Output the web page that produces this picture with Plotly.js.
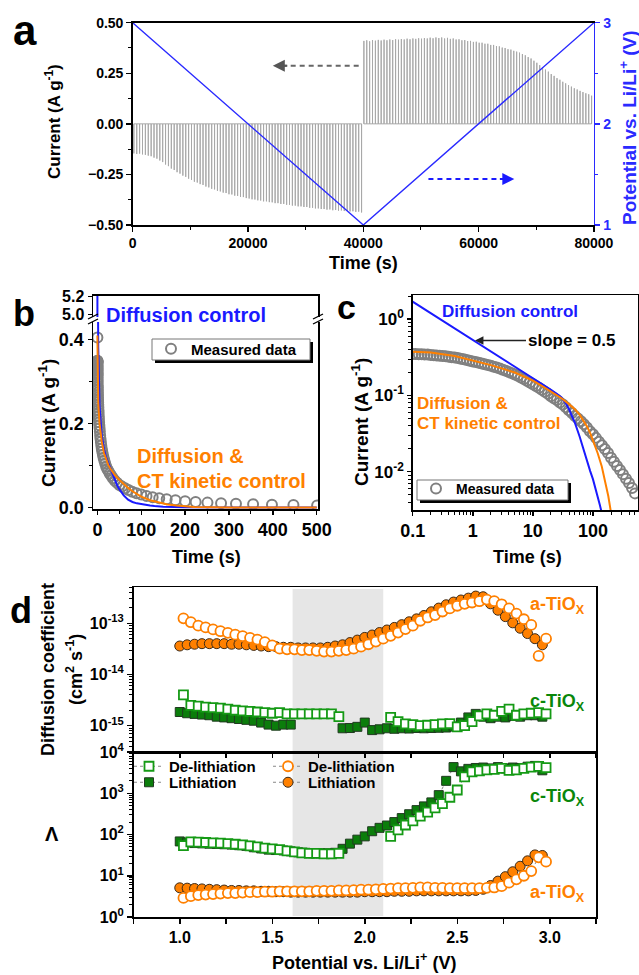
<!DOCTYPE html>
<html><head><meta charset="utf-8">
<script src="https://cdn.plot.ly/plotly-3.0.1.min.js"></script>
<style>html,body{margin:0;padding:0;background:#fff;}#chart{width:639px;height:975px;}</style>
</head><body><div id="chart"></div>
<script>
// ---------- Panel a: GITT pulses and potential ----------
const lithTimes = [200,700,1200,1700,2200,2700,3200,3700,4200,4700,5200,5700,6200,6700,7200,7700,8200,8700,9200,9700,10200,10700,11200,11700,12200,12700,13200,13700,14200,14700,15200,15700,16200,16700,17200,17700,18200,18700,19200,19700,20200,20700,21200,21700,22200,22700,23200,23700,24200,24700,25200,25700,26200,26700,27200,27700,28200,28700,29200,29700,30200,30700,31200,31700,32200,32700,33200,33700,34200,34700,35200,35700,36200,36700,37200,37700,38200,38700,39200,39700];
const lithPeaks = [-0.146,-0.149,-0.147,-0.151,-0.153,-0.157,-0.160,-0.167,-0.172,-0.181,
-0.189,-0.201,-0.209,-0.221,-0.228,-0.239,-0.246,-0.256,-0.262,-0.271,
-0.277,-0.286,-0.290,-0.298,-0.302,-0.310,-0.314,-0.321,-0.324,-0.331,
-0.334,-0.340,-0.342,-0.348,-0.349,-0.355,-0.356,-0.361,-0.362,-0.367,
-0.369,-0.373,-0.374,-0.378,-0.379,-0.383,-0.383,-0.387,-0.388,-0.392,
-0.392,-0.396,-0.396,-0.400,-0.400,-0.404,-0.404,-0.408,-0.408,-0.411,
-0.411,-0.415,-0.415,-0.418,-0.418,-0.421,-0.421,-0.424,-0.423,-0.427,
-0.426,-0.429,-0.428,-0.431,-0.430,-0.433,-0.432,-0.435,-0.434,-0.438];
const delithTimes = [40100,40600,41100,41600,42100,42600,43100,43600,44100,44600,45100,45600,46100,46600,47100,47600,48100,48600,49100,49600,50100,50600,51100,51600,52100,52600,53100,53600,54100,54600,55100,55600,56100,56600,57100,57600,58100,58600,59100,59600,60100,60600,61100,61600,62100,62600,63100,63600,64100,64600,65100,65600,66100,66600,67100,67600,68100,68600,69100,69600,70100,70600,71100,71600,72100,72600,73100,73600,74100,74600,75100,75600,76100,76600,77100,77600,78100,78600,79100,79600];
const delithPeaks = [0.410,0.413,0.408,0.414,0.411,0.415,0.412,0.416,0.413,0.417,
0.414,0.418,0.416,0.419,0.417,0.421,0.418,0.422,0.420,0.423,
0.421,0.424,0.422,0.426,0.423,0.427,0.424,0.427,0.422,0.425,
0.420,0.422,0.417,0.418,0.413,0.414,0.409,0.410,0.405,0.406,
0.401,0.401,0.396,0.396,0.390,0.390,0.384,0.383,0.377,0.375,
0.369,0.367,0.361,0.357,0.352,0.345,0.339,0.330,0.323,0.312,
0.302,0.290,0.280,0.268,0.258,0.246,0.237,0.226,0.218,0.208,
0.200,0.191,0.184,0.176,0.170,0.163,0.157,0.151,0.146,0.139];
const potTime = [0, 40000, 80000];
const potVolt = [3, 1, 3];

// ---------- Panels b, c: current transient ----------
const measT = [0.05,0.1,0.112,0.126,0.141,0.158,0.178,0.2,0.224,0.251,0.282,0.316,0.355,0.398,0.447,0.501,0.562,0.631,0.708,0.794,0.891,
1,1.12,1.26,1.41,1.58,1.78,2,2.24,2.51,2.82,3.16,3.55,3.98,4.47,5.01,5.62,6.31,7.08,7.94,8.91,
10,11.2,12.6,14.1,15.8,17.8,20,22.4,25.1,28.2,31.6,35.5,39.8,44.7,50.1,56.2,63.1,70.8,79.4,89.1,
100,112,126,141,158,178,200,224,251,282,316,355,398,447,501];
const measI = [0.405,0.350,0.349,0.348,0.347,0.346,0.344,0.340,0.338,0.335,0.332,0.329,0.326,0.322,0.318,0.315,0.310,0.304,0.298,0.291,0.286,
0.280,0.274,0.268,0.262,0.256,0.251,0.245,0.239,0.232,0.226,0.218,0.211,0.203,0.196,0.189,0.181,0.172,0.164,0.156,0.148,
0.140,0.133,0.126,0.119,0.112,0.105,0.098,0.092,0.087,0.081,0.076,0.070,0.064,0.059,0.054,0.050,0.046,0.042,0.038,0.034,
0.031,0.0278,0.0248,0.0222,0.0198,0.0176,0.0153,0.0135,0.0119,0.0105,0.0093,0.0081,0.0071,0.0061,0.0052];
const diffT = [0.01,0.1,0.2,0.5,1,2,5,10,15,20,25,30,35,40,45,50,60,70,80,90,100,110,120,130,140,150,200,300,500];
const diffI = [5.4,1.71,1.21,0.765,0.54,0.382,0.242,0.171,0.139,0.119,0.105,0.094,0.080,0.066,0.053,0.044,0.029,0.019,0.0135,0.0102,0.0080,0.0062,0.0048,0.0037,0.0029,0.0023,0.0008,0.0001,0.00001];
const ctT = [0.01,0.1,0.2,0.5,1,2,5,10,15,20,25,30,40,50,60,70,80,90,100,120,140,160,180,200,220,300,500];
const ctI = [0.41,0.38,0.365,0.33,0.29,0.25,0.20,0.157,0.13,0.113,0.101,0.092,0.077,0.066,0.056,0.047,0.039,0.032,0.026,0.0175,0.0118,0.0076,0.0048,0.0029,0.0017,0.0002,0.000005];

// ---------- Panel d ----------
const vLi = [1.00,1.04,1.08,1.12,1.16,1.20,1.24,1.28,1.32,1.36,1.40,1.44,1.48,1.52,1.56,1.60,1.64,1.68,1.72,1.76,1.80,1.84,1.88,1.92,1.96,2.00,2.04,2.08,2.12,2.16,2.20,2.24,2.28,2.32,2.36,2.40,2.44,2.48,2.52,2.56,2.60,2.64,2.68,2.72,2.76,2.80,2.84,2.88,2.92,2.96];
const vDe = [1.02,1.06,1.10,1.14,1.18,1.22,1.26,1.30,1.34,1.38,1.42,1.46,1.50,1.54,1.58,1.62,1.66,1.70,1.74,1.78,1.82,1.86,1.90,1.94,1.98,2.02,2.06,2.10,2.14,2.18,2.22,2.26,2.30,2.34,2.38,2.42,2.46,2.50,2.54,2.58,2.62,2.66,2.70,2.74,2.78,2.82,2.86,2.90,2.94,2.98];
const dA_Li = [3.6e-14,3.8e-14,3.9e-14,4.0e-14,4.0e-14,4.0e-14,4.0e-14,3.9e-14,3.9e-14,3.8e-14,3.7e-14,3.6e-14,3.5e-14,3.5e-14,3.4e-14,3.4e-14,3.3e-14,3.3e-14,3.3e-14,3.3e-14,3.4e-14,3.6e-14,3.8e-14,4.2e-14,4.7e-14,5.3e-14,5.9e-14,6.6e-14,7.4e-14,8.3e-14,9.4e-14,1.07e-13,1.22e-13,1.42e-13,1.68e-13,1.98e-13,2.3e-13,2.6e-13,2.85e-13,3.1e-13,3.4e-13,3.3e-13,2.4e-13,1.8e-13,1.35e-13,1.02e-13,8.0e-14,6.3e-14,5.0e-14,3.8e-14];
const dA_De = [1.25e-13,1.05e-13,9.0e-14,8.3e-14,7.6e-14,7.0e-14,6.5e-14,6.0e-14,5.6e-14,5.2e-14,4.8e-14,4.3e-14,3.7e-14,3.2e-14,3.1e-14,3.1e-14,3.0e-14,3.0e-14,2.9e-14,2.8e-14,2.8e-14,2.9e-14,3.0e-14,3.2e-14,3.5e-14,3.9e-14,4.4e-14,5.0e-14,5.7e-14,6.6e-14,7.7e-14,9.0e-14,1.12e-13,1.3e-13,1.45e-13,1.7e-13,1.95e-13,2.2e-13,2.4e-13,2.55e-13,2.7e-13,2.9e-13,2.7e-13,2.35e-13,1.95e-13,1.55e-13,1.2e-13,9.3e-14,2.3e-14,5.0e-14];
const dC_Li = [1.85e-15,1.75e-15,1.7e-15,1.65e-15,1.6e-15,1.5e-15,1.45e-15,1.4e-15,1.35e-15,1.3e-15,1.25e-15,1.15e-15,1.05e-15,1.0e-15,1.05e-15,1.05e-15,null,null,null,null,null,null,8.9e-16,9.0e-16,9.5e-16,1.15e-15,8.2e-16,8.5e-16,8.9e-16,8.7e-16,8.9e-16,8.8e-16,9.0e-16,8.9e-16,9.0e-16,9.1e-16,9.2e-16,9.6e-16,1.15e-15,1.45e-15,1.7e-15,1.5e-15,1.4e-15,1.5e-15,1.45e-15,1.55e-15,1.5e-15,1.6e-15,1.6e-15,1.5e-15];
const dC_De = [4.0e-15,2.5e-15,2.4e-15,2.3e-15,2.25e-15,2.2e-15,2.1e-15,2.0e-15,1.95e-15,1.9e-15,1.85e-15,1.8e-15,1.75e-15,1.8e-15,1.7e-15,1.7e-15,1.7e-15,1.7e-15,1.7e-15,1.7e-15,1.7e-15,1.5e-15,null,null,null,null,null,null,1.45e-15,1.2e-15,1.08e-15,1.05e-15,1.0e-15,1.02e-15,1.05e-15,1.08e-15,1.1e-15,9.5e-16,1.0e-15,1.2e-15,1.55e-15,1.7e-15,1.6e-15,1.9e-15,2.1e-15,1.6e-15,1.7e-15,1.75e-15,1.8e-15,1.7e-15];
const lamC_Li = [68,64,62,61,60,59,58,57,55,53,49,46,43,42,41,39,37,36,35,35,35,36,45,60,75,90,120,145,165,200,250,310,390,480,600,900,2000,4300,3400,3900,4100,4200,4000,4300,4000,4200,4100,4400,4600,3600];
const lamC_De = [54,66,65,64,63,62,60,58,56,53,50,47,45,43,40,38,36,35,35,34,34,35,null,null,null,null,null,null,90,130,170,215,280,350,440,560,800,1200,2500,3300,3500,3700,3800,4000,3600,3700,4000,4300,4500,4200];
const lamA_Li = [5.1,5.0,4.9,4.8,4.7,4.6,4.5,4.4,4.4,4.3,4.3,4.2,4.2,4.1,4.1,4.0,4.0,4.0,4.0,4.0,4.0,4.0,4.0,4.0,4.0,4.1,4.1,4.1,4.1,4.2,4.2,4.2,4.3,4.3,4.3,4.3,4.3,4.3,4.3,4.3,4.4,4.7,5.8,7.4,9.5,12.5,17,23,32,31];
const lamA_De = [2.9,3.2,3.4,3.5,3.6,3.7,3.8,3.8,3.9,4.0,4.0,4.1,4.1,4.2,4.2,4.2,4.2,4.2,4.3,4.3,4.3,4.4,4.4,4.5,4.6,4.6,4.7,4.8,4.9,5.0,5.0,5.1,5.2,5.2,5.1,5.1,5.0,5.0,5.0,5.0,5.0,5.1,5.2,5.6,6.8,8.2,10,13,28,22];

// ---------- helpers ----------
const W = 639, H = 975;
const px = x => x / W, py = y => 1 - y / H;
const FONT = 'Liberation Sans, Arial, Helvetica, sans-serif';
const BLUE = '#1a1aff', ORANGE = '#ff8000', GREEN = '#0a870a', GRAY = '#808080', PBLUE = '#2a2aff';

function pulsePath(times, peaks) {
  const x = [], y = [];
  times.forEach((t, i) => { x.push(t, t, t); y.push(0, peaks[i], 0); });
  return {x, y};
}
const pL = pulsePath(lithTimes, lithPeaks);
const pD = pulsePath(delithTimes, delithPeaks);

const traces = [];
// panel a
traces.push({x: pL.x, y: pL.y, xaxis: 'x', yaxis: 'y', mode: 'lines', line: {color: '#a8a8a8', width: 1}, showlegend: false});
traces.push({x: pD.x, y: pD.y, xaxis: 'x', yaxis: 'y', mode: 'lines', line: {color: '#a8a8a8', width: 1}, showlegend: false});
traces.push({x: potTime, y: potVolt, xaxis: 'x', yaxis: 'y2', mode: 'lines', line: {color: PBLUE, width: 1.4}, showlegend: false});

// panel b (lower x2/y3, upper x3/y4)
const measMarker = {symbol: 'circle-open', size: 10, color: GRAY, line: {width: 2, color: GRAY}};
traces.push({x: measT, y: measI, xaxis: 'x2', yaxis: 'y3', mode: 'markers', marker: measMarker, name: 'Measured data', legend: 'legend'});
traces.push({x: diffT, y: diffI, xaxis: 'x2', yaxis: 'y3', mode: 'lines', line: {color: BLUE, width: 2}, showlegend: false});
traces.push({x: diffT, y: diffI, xaxis: 'x3', yaxis: 'y4', mode: 'lines', line: {color: BLUE, width: 2}, showlegend: false});
traces.push({x: ctT, y: ctI, xaxis: 'x2', yaxis: 'y3', mode: 'lines', line: {color: ORANGE, width: 2}, showlegend: false});
// panel c (x4/y5)
traces.push({x: measT, y: measI, xaxis: 'x4', yaxis: 'y5', mode: 'markers', marker: measMarker, name: 'Measured data', legend: 'legend2'});
traces.push({x: diffT, y: diffI, xaxis: 'x4', yaxis: 'y5', mode: 'lines', line: {color: BLUE, width: 2}, showlegend: false});
traces.push({x: ctT, y: ctI, xaxis: 'x4', yaxis: 'y5', mode: 'lines', line: {color: ORANGE, width: 2}, showlegend: false});

// panel d markers
const mGreenF = {symbol: 'square', size: 9, color: '#0b7d0b', line: {color: '#203a20', width: 1}};
const mGreenO = {symbol: 'square', size: 9, color: 'white', line: {color: '#159a15', width: 1.8}};
const mOrF = {symbol: 'circle', size: 10, color: ORANGE, line: {color: '#3b2a18', width: 1}};
const mOrO = {symbol: 'circle', size: 10, color: 'white', line: {color: ORANGE, width: 1.8}};
const dotLine = {color: '#888', width: 1, dash: 'dot'};
// upper (x5/y6)
traces.push({x: vLi, y: dC_Li, xaxis: 'x5', yaxis: 'y6', mode: 'markers', marker: mGreenF, showlegend: false});
traces.push({x: vDe, y: dC_De, xaxis: 'x5', yaxis: 'y6', mode: 'markers', marker: mGreenO, showlegend: false});
traces.push({x: vLi, y: dA_Li, xaxis: 'x5', yaxis: 'y6', mode: 'markers', marker: mOrF, showlegend: false});
traces.push({x: vDe, y: dA_De, xaxis: 'x5', yaxis: 'y6', mode: 'markers', marker: mOrO, showlegend: false});
// lower (x6/y7)
traces.push({x: vLi, y: lamC_Li, xaxis: 'x6', yaxis: 'y7', mode: 'lines+markers', line: dotLine, marker: mGreenF, name: 'Lithiation', legend: 'legend4'});
traces.push({x: vDe, y: lamC_De, xaxis: 'x6', yaxis: 'y7', mode: 'lines+markers', line: dotLine, marker: mGreenO, name: 'De-lithiation', legend: 'legend3'});
traces.push({x: vLi, y: lamA_Li, xaxis: 'x6', yaxis: 'y7', mode: 'lines+markers', line: dotLine, marker: mOrF, name: 'Lithiation', legend: 'legend6'});
traces.push({x: vDe, y: lamA_De, xaxis: 'x6', yaxis: 'y7', mode: 'lines+markers', line: dotLine, marker: mOrO, name: 'De-lithiation', legend: 'legend5'});

function ax(o) {
  return Object.assign({showline: true, linecolor: 'black', linewidth: 1.5, ticks: 'outside', ticklen: 5, tickwidth: 1.5,
    tickcolor: 'black', showgrid: false, zeroline: false, fixedrange: true}, o);
}
const minorLin = (d, t0) => ({ticks: 'outside', ticklen: 3, tickwidth: 1, dtick: d, tick0: t0, tickcolor: 'black', showgrid: false});
const minorLog = {ticks: 'outside', ticklen: 3, tickwidth: 1, dtick: 'D1', tickcolor: 'black', showgrid: false};

const dX = [px(133.5), px(596)];
const bX = [px(93), px(318)];

function leg(x, y) {
  return {x: px(x), y: py(y), xanchor: 'left', yanchor: 'top', bgcolor: 'rgba(0,0,0,0)', borderwidth: 0,
    font: {size: 15}, itemwidth: 30};
}

const layout = {
  width: W, height: H, margin: {l: 0, r: 0, t: 0, b: 0},
  paper_bgcolor: 'white', plot_bgcolor: 'rgba(0,0,0,0)',
  font: {family: FONT, size: 14, color: 'black', weight: 'bold'},
  showlegend: true,
  xaxis: ax({domain: [px(132.7), px(593.9)], anchor: 'y', range: [0, 80000], dtick: 20000, tick0: 0, tickformat: 'd', mirror: true,
    tickfont: {size: 14}, minor: minorLin(10000, 0)}),
  yaxis: ax({domain: [py(225), py(22.7)], anchor: 'x', range: [-0.5, 0.5], dtick: 0.25, tick0: 0, tickformat: '.2f',
    tickfont: {size: 14}, minor: minorLin(0.125, 0)}),
  yaxis2: ax({overlaying: 'y', side: 'right', anchor: 'x', range: [1, 3], dtick: 1, tick0: 1, linecolor: PBLUE,
    tickcolor: PBLUE, tickfont: {size: 14, color: PBLUE},
    minor: {ticks: 'outside', ticklen: 3, tickwidth: 1, dtick: 0.5, tick0: 1, tickcolor: PBLUE}}),

  xaxis2: ax({domain: bX, anchor: 'y3', range: [-10, 503], dtick: 100, tick0: 0, tickfont: {size: 18}, ticklen: 4, minor: minorLin(50, 0)}),
  yaxis3: ax({domain: [py(509.3), py(322)], anchor: 'x2', range: [-0.004, 0.442], dtick: 0.2, tick0: 0, tickformat: '.1f',
    mirror: true, tickfont: {size: 18}, ticklen: 4, minor: minorLin(0.1, 0)}),
  xaxis3: ax({domain: bX, anchor: 'y4', range: [-10, 503], side: 'top', showticklabels: false, ticks: ''}),
  yaxis4: ax({domain: [py(317), py(295.7)], anchor: 'x3', range: [4.97, 5.21], tickvals: [5.0, 5.2], ticktext: ['5.0', '5.2'],
    mirror: true, tickfont: {size: 16}, ticklen: 4}),

  xaxis4: ax({type: 'log', domain: [px(412.7), px(638)], anchor: 'y5', range: [-1, 2.75], tickvals: [0.1, 1, 10, 100],
    ticktext: ['0.1', '1', '10', '100'], mirror: true, tickfont: {size: 18}, ticklen: 4, minor: minorLog}),
  yaxis5: ax({type: 'log', domain: [py(510), py(295)], anchor: 'x4', range: [-2.502, 0.318], tickvals: [0.01, 0.1, 1],
    ticktext: ['10<sup>-2</sup>', '10<sup>-1</sup>', '10<sup>0</sup>'], mirror: true, tickfont: {size: 17}, ticklen: 4, minor: minorLog}),

  xaxis5: ax({domain: dX, anchor: 'y6', range: [0.75, 3.25], dtick: 0.25, tick0: 0.75, showticklabels: false, mirror: true, ticklen: 4}),
  yaxis6: ax({type: 'log', domain: [py(752), py(587.3)], anchor: 'x5', range: [-15.514, -12.297],
    tickvals: [1e-15, 1e-14, 1e-13], ticktext: ['10<sup>-15</sup>', '10<sup>-14</sup>', '10<sup>-13</sup>'],
    mirror: true, tickfont: {size: 16}, minor: minorLog}),
  xaxis6: ax({domain: dX, anchor: 'y7', range: [0.75, 3.25], tickvals: [1, 1.5, 2, 2.5, 3], ticktext: ['1.0', '1.5', '2.0', '2.5', '3.0'],
    mirror: true, tickfont: {size: 16}, minor: {ticks: 'outside', ticklen: 5, tickwidth: 1.5, dtick: 0.25, tick0: 0.75, tickcolor: 'black'}}),
  yaxis7: ax({type: 'log', domain: [py(917), py(752)], anchor: 'x6', range: [0, 4],
    tickvals: [1, 10, 100, 1000, 10000], ticktext: ['10<sup>0</sup>', '10<sup>1</sup>', '10<sup>2</sup>', '10<sup>3</sup>', '10<sup>4</sup>'],
    mirror: true, tickfont: {size: 16}, minor: minorLog}),

  legend: Object.assign(leg(151, 332.5), {font: {size: 15}}),
  legend2: Object.assign(leg(416, 473), {font: {size: 14}}),
  legend3: leg(129, 750),
  legend4: leg(129, 766),
  legend5: leg(268, 750),
  legend6: leg(268, 766),
  shapes: [], annotations: []
};

// shaded potential window in d
layout.shapes.push({type: 'rect', xref: 'x6', yref: 'paper', x0: 1.61, x1: 2.10, y0: py(916), y1: py(589),
  fillcolor: '#e6e6e6', line: {width: 0}, layer: 'below'});
// dashed arrows in a
layout.shapes.push({type: 'line', xref: 'x', yref: 'y', x0: 39200, x1: 25600, y0: 0.287, y1: 0.287,
  line: {color: '#666', width: 2, dash: '5px,4px'}});
layout.shapes.push({type: 'line', xref: 'x', yref: 'y', x0: 51300, x1: 64900, y0: -0.273, y1: -0.273,
  line: {color: BLUE, width: 2, dash: '5px,4px'}});
// axis break marks in b
[[93, 316.5], [93, 321.5], [318, 316.5], [318, 321.5]].forEach(([bx, by]) => {
  layout.shapes.push({type: 'line', xref: 'paper', yref: 'paper', x0: px(bx - 5), y0: py(by + 2.5), x1: px(bx + 5), y1: py(by - 2.5),
    line: {color: 'black', width: 1.3}});
});
// legend frames with drop shadow (b and c)
function frame(x0, y0, x1, y1) {
  layout.shapes.push({type: 'rect', xref: 'paper', yref: 'paper', x0: px(x0 + 3), x1: px(x1 + 3), y0: py(y1 + 3), y1: py(y0 + 3),
    fillcolor: 'black', line: {width: 0}, layer: 'above'});
  layout.shapes.push({type: 'rect', xref: 'paper', yref: 'paper', x0: px(x0), x1: px(x1), y0: py(y1), y1: py(y0),
    fillcolor: 'white', line: {width: 1, color: '#777'}, layer: 'above'});
}
frame(152, 339, 310, 360);
frame(417, 480, 568, 500);

function T(text, x, y, o) {
  return Object.assign({text: text, x: px(x), y: py(y), xref: 'paper', yref: 'paper', showarrow: false,
    xanchor: 'center', yanchor: 'middle'}, o || {});
}
const A = layout.annotations;
// panel letters
A.push(T('a', 25, 30, {font: {size: 42}}));
A.push(T('b', 24, 313, {font: {size: 36}}));
A.push(T('c', 347, 307, {font: {size: 34}}));
A.push(T('d', 21, 610, {font: {size: 36}}));
// panel a titles
A.push(T('Current (A g<sup>-1</sup>)', 53, 122, {textangle: -90, font: {size: 17}}));
A.push(T('Potential vs. Li/Li<sup>+</sup> (V)', 628, 128, {textangle: -90, font: {size: 19, color: PBLUE}}));
A.push(T('Time (s)', 363, 263, {font: {size: 18}}));
// arrowheads in a
A.push({xref: 'x', yref: 'y', x: 24300, y: 0.287, ax: 16, ay: 0, showarrow: true, arrowhead: 2, arrowsize: 1.2, arrowwidth: 2, arrowcolor: '#555', text: ''});
A.push({xref: 'x', yref: 'y', x: 66200, y: -0.273, ax: -16, ay: 0, showarrow: true, arrowhead: 2, arrowsize: 1.2, arrowwidth: 2, arrowcolor: BLUE, text: ''});
// panel b titles / labels
A.push(T('Current (A g<sup>-1</sup>)', 47, 423, {textangle: -90, font: {size: 19}}));
A.push(T('Time (s)', 206, 557, {font: {size: 18}}));
A.push(T('Diffusion control', 104, 315, {xanchor: 'left', font: {size: 20, color: BLUE}}));
A.push(T('Diffusion &', 135, 456, {xanchor: 'left', font: {size: 20, color: ORANGE}}));
A.push(T('CT kinetic control', 135, 481, {xanchor: 'left', font: {size: 20, color: ORANGE}}));
// panel c
A.push(T('Current (A g<sup>-1</sup>)', 360, 422, {textangle: -90, font: {size: 19}}));
A.push(T('Time (s)', 527, 557, {font: {size: 18}}));
A.push(T('Diffusion control', 440, 311, {xanchor: 'left', font: {size: 17, color: BLUE}}));
A.push(T('Diffusion &', 415, 403, {xanchor: 'left', font: {size: 17, color: ORANGE}}));
A.push(T('CT kinetic control', 415, 424, {xanchor: 'left', font: {size: 17, color: ORANGE}}));
A.push({xref: 'paper', yref: 'paper', x: px(475), y: py(340.5), ax: 96, ay: 0, showarrow: true, arrowhead: 2, arrowsize: 1.3,
  arrowwidth: 1.3, arrowcolor: '#222', text: 'slope = 0.5', font: {size: 17}});
// panel d
A.push(T('Diffusion coefficient', 48, 670, {textangle: -90, font: {size: 18}}));
A.push(T('(cm<sup>2</sup> s<sup>-1</sup>)', 74, 670, {textangle: -90, font: {size: 18}}));
A.push(T('Λ', 52, 834, {font: {size: 20}}));
A.push(T('Potential vs. Li/Li<sup>+</sup> (V)', 364, 961, {font: {size: 18}}));
A.push(T('a-TiO<sub>X</sub>', 557, 605, {font: {size: 18, color: ORANGE}}));
A.push(T('c-TiO<sub>X</sub>', 557, 702, {font: {size: 18, color: GREEN}}));
A.push(T('c-TiO<sub>X</sub>', 557, 797, {font: {size: 18, color: GREEN}}));
A.push(T('a-TiO<sub>X</sub>', 557, 893, {font: {size: 18, color: ORANGE}}));

Plotly.newPlot('chart', traces, layout, {staticPlot: true, displayModeBar: false});
</script></body></html>
